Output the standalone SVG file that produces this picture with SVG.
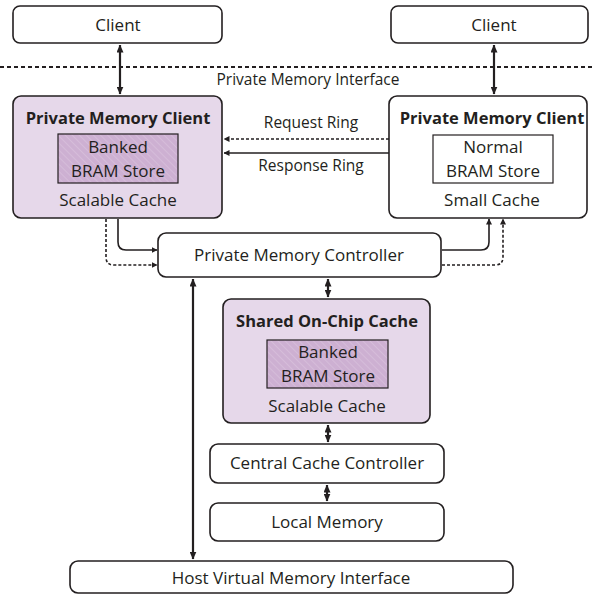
<svg xmlns="http://www.w3.org/2000/svg" width="592" height="595" viewBox="0 0 592 595">
  <style>
    .box { fill: #ffffff; stroke: #231f20; stroke-width: 1.6; }
    .cache { fill: #e6d8ea; stroke: #231f20; stroke-width: 1.6; }
    .store { fill: url(#hatch); stroke: #231f20; stroke-width: 1.2; }
    .plain { fill: #ffffff; stroke: #231f20; stroke-width: 1.2; }
    .lbl { font-family: "Open Sans", "Noto Sans", sans-serif; font-size: 17px; fill: #231f20; text-anchor: middle; }
    .ttl { font-weight: bold; font-size: 16.5px; }
    .note { font-size: 15.5px; }
    .wire { fill: none; stroke: #231f20; stroke-width: 1.6; }
    .thick { stroke-width: 2.2; }
    .dash { stroke-dasharray: 3 2; }
  </style>
  <defs>
    <pattern id="hatch" width="5" height="5" patternUnits="userSpaceOnUse" patternTransform="rotate(-45)">
      <rect width="5" height="5" fill="#cdb0d2"/>
      <line x1="0" y1="0" x2="0" y2="5" stroke="#d8c1dc" stroke-width="1.5"/>
    </pattern>
    <marker id="ah" markerWidth="8" markerHeight="7" refX="7.5" refY="3.5" orient="auto-start-reverse" markerUnits="userSpaceOnUse">
      <path d="M0,0 L8,3.5 L0,7 Z" fill="#231f20"/>
    </marker>
    <marker id="ahs" markerWidth="6" markerHeight="6" refX="5.5" refY="3" orient="auto-start-reverse" markerUnits="userSpaceOnUse">
      <path d="M0,0 L6,3 L0,6 Z" fill="#231f20"/>
    </marker>
  </defs>

  <!-- interface boundary -->
  <line x1="0" y1="67" x2="592" y2="67" stroke="#231f20" stroke-width="2" stroke-dasharray="4 3"/>
  <text class="lbl note" x="308" y="85">Private Memory Interface</text>

  <g id="client-left">
    <rect class="box" x="13" y="6" width="209" height="37" rx="7"/>
    <text class="lbl" x="118" y="31">Client</text>
  </g>
  <g id="client-right">
    <rect class="box" x="391" y="6" width="197" height="37" rx="7"/>
    <text class="lbl" x="494" y="31">Client</text>
  </g>

  <g id="pmc-left">
    <rect class="cache" x="13" y="96" width="209" height="122" rx="8"/>
    <text class="lbl ttl" x="118" y="124">Private Memory Client</text>
    <rect class="store" x="58" y="134" width="120" height="49"/>
    <text class="lbl" x="118" y="153">Banked</text>
    <text class="lbl" x="118" y="177">BRAM Store</text>
    <text class="lbl" x="118" y="206">Scalable Cache</text>
  </g>

  <g id="pmc-right">
    <rect class="box" x="389" y="96" width="198" height="122" rx="8"/>
    <text class="lbl ttl" x="492" y="124">Private Memory Client</text>
    <rect class="plain" x="433" y="135" width="120" height="48"/>
    <text class="lbl" x="493" y="153">Normal</text>
    <text class="lbl" x="493" y="177">BRAM Store</text>
    <text class="lbl" x="492" y="206">Small Cache</text>
  </g>

  <g id="pm-controller">
    <rect class="box" x="158" y="233" width="283" height="44" rx="8"/>
    <text class="lbl" x="299" y="261">Private Memory Controller</text>
  </g>

  <g id="shared-cache">
    <rect class="cache" x="223" y="299" width="207" height="124" rx="8"/>
    <text class="lbl ttl" x="327" y="327">Shared On-Chip Cache</text>
    <rect class="store" x="267" y="340" width="121" height="48"/>
    <text class="lbl" x="328" y="358">Banked</text>
    <text class="lbl" x="328" y="382">BRAM Store</text>
    <text class="lbl" x="327" y="412">Scalable Cache</text>
  </g>

  <g id="central-controller">
    <rect class="box" x="210" y="444" width="234" height="39" rx="8"/>
    <text class="lbl" x="327" y="469">Central Cache Controller</text>
  </g>

  <g id="local-memory">
    <rect class="box" x="210" y="503" width="234" height="38" rx="8"/>
    <text class="lbl" x="327" y="528">Local Memory</text>
  </g>

  <g id="host-vmi">
    <rect class="box" x="70" y="561" width="443" height="32" rx="8"/>
    <text class="lbl" x="291" y="584">Host Virtual Memory Interface</text>
  </g>

  <g id="connectors">
    <line class="wire thick" x1="120" y1="45" x2="120" y2="94" marker-start="url(#ah)" marker-end="url(#ah)"/>
    <line class="wire thick" x1="494" y1="45" x2="494" y2="94" marker-start="url(#ah)" marker-end="url(#ah)"/>

    <line class="wire dash" x1="389" y1="139" x2="224" y2="139" stroke-width="1.3" marker-end="url(#ahs)"/>
    <text class="lbl note" x="311" y="128">Request Ring</text>
    <line class="wire" x1="389" y1="153" x2="224" y2="153" marker-end="url(#ahs)"/>
    <text class="lbl note" x="311" y="171">Response Ring</text>

    <path class="wire" d="M118 219 V242 Q118 250 126 250 H157" marker-end="url(#ahs)"/>
    <path class="wire dash" stroke-width="1.3" d="M106 219 V257 Q106 265 114 265 H157" marker-end="url(#ahs)"/>
    <path class="wire" d="M442 250 H481 Q489 250 489 242 V219" marker-end="url(#ahs)"/>
    <path class="wire dash" stroke-width="1.3" d="M442 265 H495 Q503 265 503 257 V219" marker-end="url(#ahs)"/>

    <line class="wire thick" x1="328" y1="279" x2="328" y2="297" marker-start="url(#ah)" marker-end="url(#ah)"/>
    <line class="wire thick" x1="328" y1="425" x2="328" y2="442" marker-start="url(#ah)" marker-end="url(#ah)"/>
    <line class="wire thick" x1="327" y1="485" x2="327" y2="501" marker-start="url(#ah)" marker-end="url(#ah)"/>
    <line class="wire thick" x1="193" y1="279" x2="193" y2="559" marker-start="url(#ah)" marker-end="url(#ah)"/>
  </g>
</svg>
